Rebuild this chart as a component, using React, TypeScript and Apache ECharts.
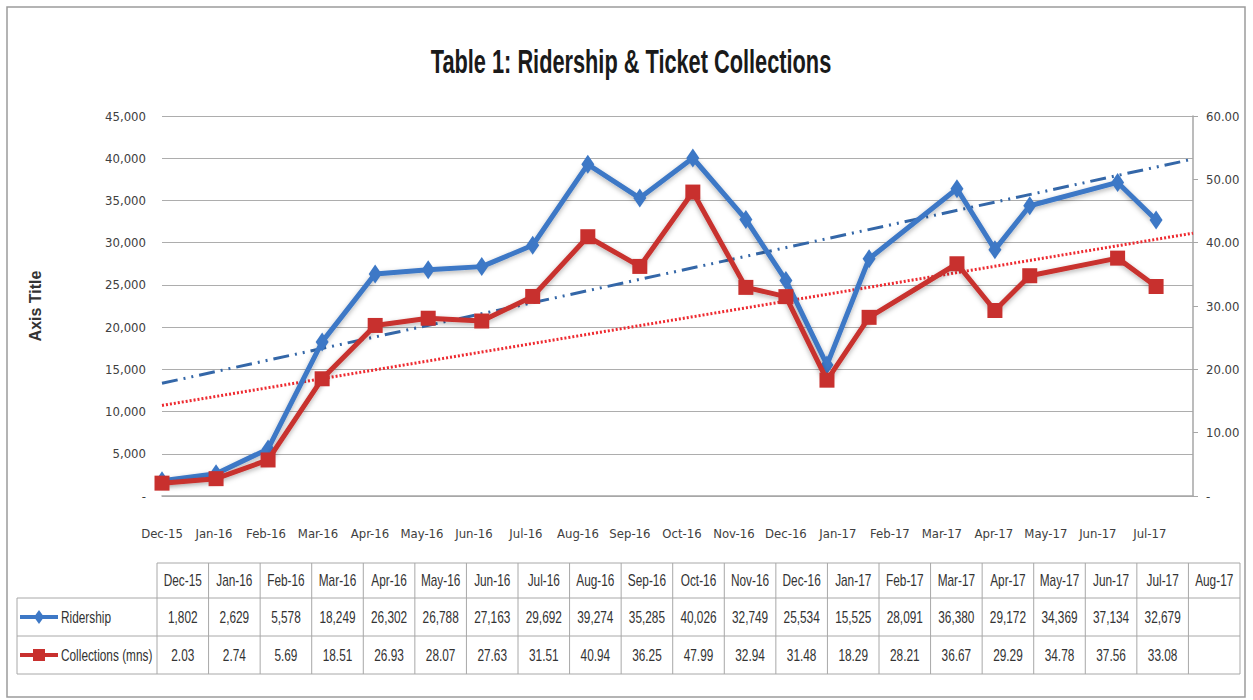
import React, { useEffect, useRef } from "react";
import * as echarts from "echarts";

const months = ["Dec-15","Jan-16","Feb-16","Mar-16","Apr-16","May-16","Jun-16","Jul-16","Aug-16","Sep-16","Oct-16","Nov-16","Dec-16","Jan-17","Feb-17","Mar-17","Apr-17","May-17","Jun-17","Jul-17"];
const tableMonths = [...months, "Aug-17"];
const ridership = [1802, 2629, 5578, 18249, 26302, 26788, 27163, 29692, 39274, 35285, 40026, 32749, 25534, 15525, 28091, 36380, 29172, 34369, 37134, 32679];
const collections = [2.03, 2.74, 5.69, 18.51, 26.93, 28.07, 27.63, 31.51, 40.94, 36.25, 47.99, 32.94, 31.48, 18.29, 28.21, 36.67, 29.29, 34.78, 37.56, 33.08];
// position of each point along the date axis, in months since Dec-15
const pointPosition = [0, 1.04, 2.04, 3.08, 4.1, 5.12, 6.15, 7.13, 8.19, 9.19, 10.21, 11.23, 12.0, 12.79, 13.6, 15.29, 16.02, 16.69, 18.38, 19.12];
const axisEnd = 19.83;
const ridershipTrend = [13350, 39900];
const collectionsTrend = [14.3, 41.5];
const leftTicks = { min: 0, max: 45000, interval: 5000 };
const rightTicks = { min: 0, max: 60, interval: 10 };

const BLUE = "#3D78C6";
const RED = "#C8302E";
const NARROW = "'Liberation Sans Narrow', 'DejaVu Sans Condensed', 'Open Sans', sans-serif";
const TABLE_FONT = "16px 'Liberation Sans', Arial, sans-serif";

function buildTable(): any[] {
  const els: any[] = [];
  const colStart = 157;
  const colEnd = 1240;
  const tableLeft = 17;
  const colW = (colEnd - colStart) / tableMonths.length;
  const rowY = [563, 598, 636, 674];
  const lineStyle = { stroke: "#A8A8A8", lineWidth: 1 };
  els.push({ type: "line", shape: { x1: colStart, y1: rowY[0], x2: colEnd, y2: rowY[0] }, style: lineStyle, silent: true });
  for (let r = 1; r < rowY.length; r++) {
    els.push({ type: "line", shape: { x1: tableLeft, y1: rowY[r], x2: colEnd, y2: rowY[r] }, style: lineStyle, silent: true });
  }
  els.push({ type: "line", shape: { x1: tableLeft, y1: rowY[1], x2: tableLeft, y2: rowY[3] }, style: lineStyle, silent: true });
  for (let c = 0; c <= tableMonths.length; c++) {
    const x = colStart + c * colW;
    els.push({ type: "line", shape: { x1: x, y1: rowY[0], x2: x, y2: rowY[3] }, style: lineStyle, silent: true });
  }
  const txt = (text: string, x: number, y: number, align = "center") => ({
    type: "text",
    x,
    y,
    scaleX: 0.74,
    silent: true,
    style: { text, x: 0, y: 0, align, verticalAlign: "middle", font: TABLE_FONT, fill: "#333" },
  });
  tableMonths.forEach((m, i) => {
    const cx = colStart + (i + 0.5) * colW;
    els.push(txt(m, cx, (rowY[0] + rowY[1]) / 2));
    if (i < ridership.length) {
      els.push(txt(ridership[i].toLocaleString("en-US"), cx, (rowY[1] + rowY[2]) / 2));
      els.push(txt(collections[i].toFixed(2), cx, (rowY[2] + rowY[3]) / 2));
    }
  });
  const y1 = (rowY[1] + rowY[2]) / 2;
  const y2 = (rowY[2] + rowY[3]) / 2;
  els.push({ type: "line", shape: { x1: 20, y1: y1, x2: 58, y2: y1 }, style: { stroke: BLUE, lineWidth: 4 }, silent: true });
  els.push({ type: "polygon", shape: { points: [[39, y1 - 7], [44, y1], [39, y1 + 7], [34, y1]] }, style: { fill: BLUE }, silent: true });
  els.push({ type: "line", shape: { x1: 20, y1: y2, x2: 58, y2: y2 }, style: { stroke: RED, lineWidth: 4 }, silent: true });
  els.push({ type: "rect", shape: { x: 33, y: y2 - 6, width: 12, height: 12 }, style: { fill: RED }, silent: true });
  els.push(txt("Ridership", 61, y1, "left"));
  els.push(txt("Collections (mns)", 61, y2, "left"));
  return els;
}

export default function App() {
  const ref = useRef<HTMLDivElement>(null);
  useEffect(() => {
    if (!ref.current) return;
    const chart = echarts.init(ref.current, null, { renderer: "svg" });
    const labelStyle = { fontSize: 13, color: "#404040", fontFamily: NARROW };
    const shadow = { shadowColor: "rgba(0,0,0,0.3)", shadowBlur: 5, shadowOffsetY: 2 };
    const option: any = {
      animation: false,
      backgroundColor: "#ffffff",
      grid: { left: 162, right: 60, top: 116, bottom: 204, containLabel: false },
      xAxis: {
        type: "value",
        min: 0,
        max: axisEnd,
        interval: 1,
        axisLine: { show: true, lineStyle: { color: "#A6A6A6", width: 1.5 } },
        axisTick: { show: false },
        splitLine: { show: false },
        axisLabel: {
          ...labelStyle,
          margin: 31,
          showMaxLabel: false,
          formatter: (v: number) => {
            const r = Math.round(v);
            return Math.abs(v - r) < 1e-6 && r < months.length ? months[r] : "";
          },
        },
      },
      yAxis: [
        {
          type: "value",
          ...leftTicks,
          name: "Axis Title",
          nameLocation: "middle",
          nameGap: 119,
          nameRotate: 90,
          nameTextStyle: { fontWeight: "bold", fontSize: 16, fontFamily: "'Liberation Sans', Arial, sans-serif", color: "#333" },
          axisLine: { show: false },
          axisTick: { show: false },
          splitLine: { lineStyle: { color: "#ADADAD", width: 1 } },
          axisLabel: { ...labelStyle, margin: 16, formatter: (v: number) => (v === 0 ? "-" : v.toLocaleString("en-US")) },
        },
        {
          type: "value",
          ...rightTicks,
          position: "right",
          axisLine: { show: true, lineStyle: { color: "#A6A6A6", width: 1.5 } },
          axisTick: { show: true, length: 5, lineStyle: { color: "#A6A6A6" } },
          splitLine: { show: false },
          axisLabel: { ...labelStyle, margin: 13, formatter: (v: number) => (v === 0 ? "-" : v.toFixed(2)) },
        },
      ],
      series: [
        {
          name: "Ridership trend",
          type: "line",
          yAxisIndex: 0,
          data: [[0, ridershipTrend[0]], [axisEnd, ridershipTrend[1]]],
          symbol: "none",
          silent: true,
          z: 1,
          lineStyle: { color: "#3467A8", width: 3, type: [16, 6, 2, 6, 2, 6] },
        },
        {
          name: "Collections trend",
          type: "line",
          yAxisIndex: 1,
          data: [[0, collectionsTrend[0]], [axisEnd, collectionsTrend[1]]],
          symbol: "none",
          silent: true,
          z: 1,
          lineStyle: { color: "#EE2A30", width: 3, type: [2, 2] },
        },
        {
          name: "Ridership",
          type: "line",
          yAxisIndex: 0,
          data: pointPosition.map((x, i) => [x, ridership[i]]),
          symbol: "diamond",
          symbolSize: [13, 19],
          z: 3,
          itemStyle: { color: BLUE },
          lineStyle: { color: BLUE, width: 5, ...shadow },
        },
        {
          name: "Collections (mns)",
          type: "line",
          yAxisIndex: 1,
          data: pointPosition.map((x, i) => [x, collections[i]]),
          symbol: "rect",
          symbolSize: 15,
          z: 4,
          itemStyle: { color: RED },
          lineStyle: { color: RED, width: 5, ...shadow },
        },
      ],
      graphic: [
        {
          type: "rect",
          shape: { x: 7, y: 7, width: 1238, height: 690 },
          style: { fill: "none", stroke: "#9C9C9C", lineWidth: 1.5 },
          silent: true,
          z: -1,
        },
        {
          type: "text",
          x: 631,
          y: 61,
          scaleX: 0.64,
          silent: true,
          style: {
            text: "Table 1: Ridership & Ticket Collections",
            x: 0,
            y: 0,
            align: "center",
            verticalAlign: "middle",
            font: "bold 34px 'Liberation Sans', Arial, sans-serif",
            fill: "#1a1a1a",
          },
        },
        ...buildTable(),
      ],
    };
    chart.setOption(option);
    return () => chart.dispose();
  }, []);
  return <div ref={ref} style={{ position: "absolute", left: 0, top: 0, width: 1253, height: 700 }} />;
}
